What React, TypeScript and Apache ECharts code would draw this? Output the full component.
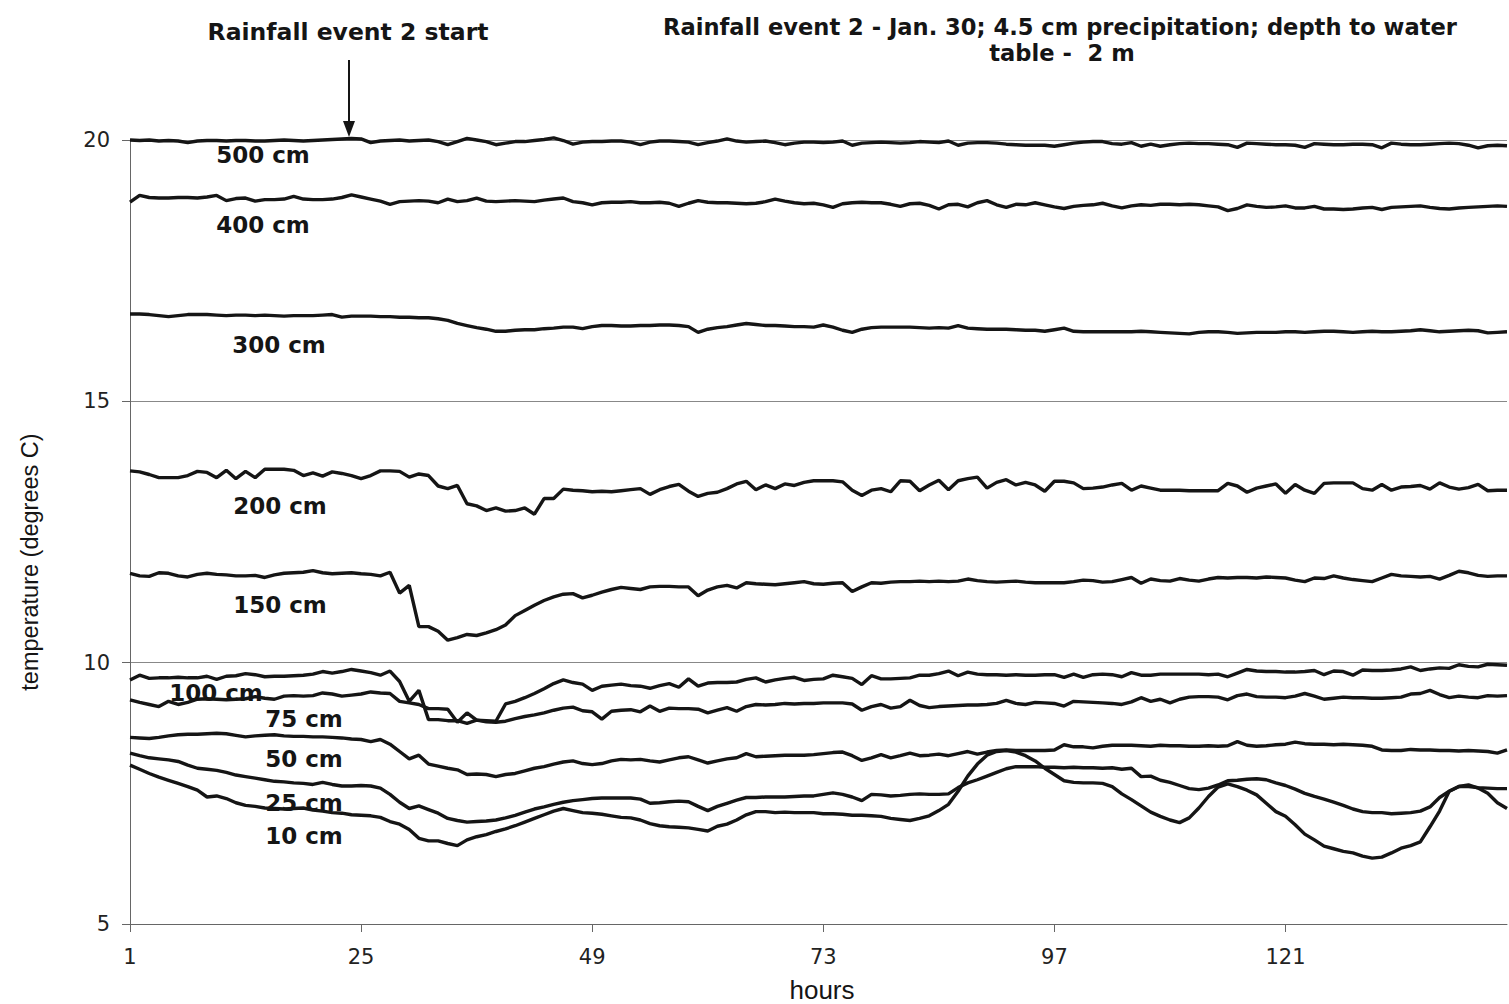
import React, { useEffect, useRef } from "react";
import * as echarts from "echarts";

// hours 1..144 (category axis)
const hours: string[] = [];
for (let i = 1; i <= 144; i++) hours.push(String(i));

const t500 = [
  20.0, 19.99, 20.0, 19.98, 19.99, 19.98, 19.95, 19.98, 19.99, 19.99, 19.98, 19.99,
  19.99, 19.98, 19.98, 19.99, 20.0, 19.99, 19.98, 19.99, 20.0, 20.01, 20.02, 20.03,
  20.02, 19.95, 19.98, 19.99, 20.0, 19.98, 19.99, 20.0, 19.97, 19.91, 19.97, 20.03,
  20.0, 19.97, 19.91, 19.94, 19.97, 19.97, 19.99, 20.01, 20.04, 19.99, 19.92, 19.96,
  19.97, 19.97, 19.98, 19.98, 19.96, 19.91, 19.96, 19.98, 19.98, 19.97, 19.96, 19.91,
  19.95, 19.98, 20.02, 19.98, 19.96, 19.97, 19.98, 19.95, 19.91, 19.94, 19.96, 19.96,
  19.95, 19.96, 19.98, 19.9, 19.94, 19.95, 19.96, 19.95, 19.94, 19.95, 19.97, 19.96,
  19.95, 19.98, 19.9, 19.94, 19.95, 19.95, 19.94, 19.92, 19.91, 19.9, 19.9, 19.9,
  19.88, 19.91, 19.94, 19.96, 19.97, 19.97, 19.93, 19.92, 19.95, 19.88, 19.92, 19.88,
  19.91, 19.93, 19.94, 19.93, 19.93, 19.92, 19.91, 19.86, 19.94, 19.93, 19.92, 19.91,
  19.91, 19.9, 19.86, 19.93, 19.92, 19.91, 19.91, 19.92, 19.92, 19.91, 19.85, 19.94,
  19.92, 19.91, 19.91, 19.92, 19.93, 19.94, 19.93, 19.9, 19.85, 19.89, 19.9, 19.89,
];

const t400 = [
  18.81, 18.94, 18.9, 18.89, 18.89, 18.9, 18.9, 18.89, 18.91, 18.94, 18.84, 18.88,
  18.89, 18.83, 18.86, 18.86, 18.87, 18.92, 18.87, 18.86, 18.86, 18.87, 18.9, 18.95,
  18.91, 18.87, 18.83, 18.77, 18.82, 18.83, 18.84, 18.83, 18.8, 18.87, 18.82, 18.84,
  18.89, 18.83, 18.82, 18.83, 18.84, 18.83, 18.82, 18.85, 18.87, 18.89, 18.82, 18.8,
  18.76, 18.8, 18.81, 18.81, 18.82, 18.8, 18.8, 18.81, 18.79, 18.73, 18.79, 18.84,
  18.81, 18.8, 18.8, 18.79, 18.78, 18.79, 18.82, 18.87, 18.83, 18.8, 18.78, 18.79,
  18.76, 18.71, 18.78, 18.8, 18.81, 18.8, 18.8, 18.77, 18.73, 18.78, 18.79, 18.75,
  18.68, 18.76, 18.77, 18.72, 18.8, 18.84, 18.76, 18.71, 18.77, 18.76, 18.8, 18.76,
  18.72, 18.69, 18.73, 18.75, 18.76, 18.79, 18.74, 18.7, 18.74, 18.76, 18.75, 18.77,
  18.77, 18.76, 18.77, 18.76, 18.74, 18.72, 18.65, 18.69, 18.76, 18.73, 18.71, 18.72,
  18.74, 18.7, 18.7, 18.73, 18.68, 18.68, 18.67, 18.68, 18.7, 18.71, 18.67, 18.71,
  18.72, 18.73, 18.74, 18.71, 18.69, 18.68, 18.7, 18.71, 18.72, 18.73, 18.74, 18.73,
];

const t300 = [
  16.67, 16.67, 16.66, 16.64, 16.62, 16.64, 16.66, 16.66, 16.66, 16.65, 16.64, 16.65,
  16.65, 16.64, 16.65, 16.64, 16.63, 16.64, 16.64, 16.64, 16.65, 16.66, 16.61, 16.63,
  16.63, 16.63, 16.62, 16.62, 16.61, 16.61, 16.6, 16.6, 16.58, 16.55, 16.49, 16.45,
  16.41, 16.38, 16.34, 16.34, 16.36, 16.37, 16.37, 16.39, 16.4, 16.42, 16.42, 16.39,
  16.43, 16.45, 16.45, 16.44, 16.44, 16.45, 16.45, 16.46, 16.46, 16.45, 16.43, 16.32,
  16.38, 16.41, 16.43, 16.46, 16.49, 16.47, 16.45, 16.45, 16.44, 16.43, 16.43, 16.42,
  16.46, 16.42, 16.36, 16.32, 16.38, 16.41, 16.42, 16.42, 16.42, 16.42, 16.41, 16.4,
  16.41, 16.4, 16.45, 16.4, 16.39, 16.38, 16.38, 16.38, 16.37, 16.36, 16.36, 16.34,
  16.37, 16.4, 16.34, 16.33, 16.33, 16.33, 16.33, 16.33, 16.33, 16.34, 16.33, 16.32,
  16.31, 16.3, 16.29, 16.32, 16.33, 16.33, 16.32, 16.3, 16.31, 16.32, 16.32, 16.32,
  16.33, 16.33, 16.32, 16.33, 16.34, 16.34, 16.33, 16.32, 16.33, 16.34, 16.33, 16.33,
  16.34, 16.35, 16.37, 16.35, 16.33, 16.34, 16.35, 16.36, 16.35, 16.31, 16.32, 16.33,
];

const t200 = [
  13.67, 13.65, 13.6, 13.54, 13.54, 13.54, 13.58, 13.66, 13.64, 13.54, 13.68, 13.52,
  13.66, 13.54, 13.7, 13.7, 13.7, 13.68, 13.58, 13.63, 13.57, 13.65, 13.62, 13.58,
  13.52, 13.58, 13.67, 13.67, 13.66, 13.55, 13.61, 13.58, 13.38, 13.33, 13.39, 13.04,
  13.0, 12.91, 12.96, 12.9, 12.91, 12.96, 12.84, 13.14, 13.14, 13.32, 13.3, 13.29,
  13.27, 13.28, 13.27, 13.29, 13.31, 13.33, 13.22, 13.31, 13.37, 13.41, 13.28, 13.18,
  13.24, 13.26, 13.33, 13.42, 13.47, 13.31, 13.4, 13.33, 13.42, 13.39, 13.45, 13.48,
  13.48, 13.48, 13.46, 13.3, 13.2, 13.3, 13.33, 13.27, 13.48, 13.47, 13.29, 13.4,
  13.49, 13.31, 13.48, 13.52, 13.55, 13.34, 13.45, 13.5, 13.4, 13.45, 13.4, 13.28,
  13.47, 13.47, 13.44, 13.33, 13.34, 13.36, 13.4, 13.43, 13.3, 13.38, 13.34, 13.3,
  13.3, 13.3, 13.29, 13.29, 13.29, 13.29, 13.43, 13.38, 13.26, 13.34, 13.38, 13.42,
  13.24, 13.41, 13.3, 13.24, 13.43, 13.44, 13.44, 13.44, 13.33, 13.3, 13.41, 13.3,
  13.36, 13.37, 13.39, 13.32, 13.44, 13.36, 13.32, 13.35, 13.41, 13.29, 13.3, 13.3,
];

const t150 = [
  11.71, 11.66, 11.65, 11.72, 11.71, 11.66, 11.64, 11.69, 11.71, 11.69, 11.68, 11.66,
  11.66, 11.67, 11.63, 11.68, 11.71, 11.72, 11.73, 11.76, 11.72, 11.7, 11.71, 11.72,
  11.7, 11.69, 11.66, 11.73, 11.33, 11.48, 10.69, 10.69, 10.6, 10.43, 10.48, 10.54,
  10.52, 10.57, 10.63, 10.72, 10.9, 11.0, 11.1, 11.19, 11.26, 11.31, 11.32, 11.24,
  11.29, 11.35, 11.4, 11.44, 11.42, 11.4, 11.45, 11.46, 11.46, 11.45, 11.45, 11.28,
  11.39, 11.45, 11.48, 11.43, 11.53, 11.51, 11.5, 11.49, 11.51, 11.53, 11.55, 11.51,
  11.5, 11.52, 11.53, 11.36, 11.45, 11.53, 11.52, 11.54, 11.55, 11.55, 11.56, 11.55,
  11.56, 11.55, 11.56, 11.6, 11.57, 11.55, 11.54, 11.55, 11.56, 11.54, 11.53, 11.53,
  11.53, 11.53, 11.55, 11.58, 11.57, 11.54, 11.55, 11.59, 11.63, 11.52, 11.6, 11.57,
  11.56, 11.61, 11.58, 11.56, 11.6, 11.63, 11.62, 11.63, 11.63, 11.62, 11.64, 11.63,
  11.62, 11.58, 11.55, 11.62, 11.61, 11.66, 11.62, 11.59, 11.57, 11.55, 11.62, 11.69,
  11.66, 11.65, 11.64, 11.65, 11.6, 11.67, 11.75, 11.72, 11.67, 11.65, 11.66, 11.66,
];

const t100 = [
  9.67, 9.76, 9.7, 9.71, 9.71, 9.72, 9.71, 9.71, 9.74, 9.68, 9.74, 9.75,
  9.79, 9.77, 9.73, 9.74, 9.74, 9.75, 9.76, 9.78, 9.83, 9.8, 9.83, 9.87,
  9.84, 9.81, 9.76, 9.84, 9.64, 9.26, 9.47, 8.91, 8.91, 8.89, 8.89, 8.84,
  8.9, 8.89, 8.88, 9.21, 9.26, 9.33, 9.41, 9.5, 9.6, 9.67, 9.62, 9.59,
  9.47, 9.55, 9.57, 9.59, 9.56, 9.55, 9.51, 9.56, 9.6, 9.53, 9.69, 9.55,
  9.61, 9.62, 9.62, 9.63, 9.68, 9.71, 9.63, 9.67, 9.7, 9.72, 9.66, 9.68,
  9.69, 9.76, 9.73, 9.7, 9.58, 9.75, 9.69, 9.69, 9.7, 9.71, 9.76, 9.76,
  9.79, 9.84, 9.75, 9.82, 9.78, 9.77, 9.77, 9.76, 9.77, 9.76, 9.76, 9.77,
  9.77, 9.72, 9.78, 9.72, 9.77, 9.78, 9.77, 9.73, 9.81, 9.76, 9.76, 9.78,
  9.78, 9.78, 9.78, 9.78, 9.77, 9.78, 9.73, 9.8, 9.87, 9.84, 9.83, 9.83,
  9.82, 9.82, 9.83, 9.85, 9.77, 9.84, 9.83, 9.76, 9.86, 9.85, 9.85, 9.86,
  9.88, 9.92, 9.85, 9.88, 9.9, 9.89, 9.96, 9.93, 9.92, 9.97, 9.96, 9.95,
];

const t75 = [
  9.29, 9.24, 9.2, 9.16, 9.26, 9.2, 9.24, 9.3, 9.31, 9.3, 9.29, 9.3,
  9.31, 9.35, 9.32, 9.3, 9.36, 9.37, 9.36, 9.37, 9.42, 9.4, 9.36, 9.38,
  9.4, 9.44, 9.42, 9.41, 9.26, 9.23, 9.2, 9.12, 9.12, 9.11, 8.86, 9.04,
  8.9, 8.87, 8.86, 8.88, 8.93, 8.97, 9.0, 9.04, 9.09, 9.13, 9.15, 9.08,
  9.06, 8.92, 9.07, 9.09, 9.1, 9.06, 9.17, 9.07, 9.13, 9.12, 9.12, 9.11,
  9.04, 9.09, 9.14, 9.07, 9.16, 9.2, 9.19, 9.2, 9.22, 9.21, 9.22, 9.22,
  9.23, 9.23, 9.23, 9.21, 9.09, 9.16, 9.2, 9.13, 9.16, 9.28, 9.18, 9.14,
  9.16, 9.17, 9.18, 9.19, 9.19, 9.2, 9.22, 9.28, 9.22, 9.2, 9.24, 9.23,
  9.22, 9.17, 9.26, 9.25, 9.24, 9.23, 9.22, 9.2, 9.25, 9.33, 9.26, 9.3,
  9.23, 9.3, 9.34, 9.35, 9.35, 9.34, 9.29, 9.37, 9.4, 9.35, 9.34, 9.34,
  9.33, 9.36, 9.41, 9.36, 9.3, 9.32, 9.34, 9.33, 9.33, 9.32, 9.32, 9.33,
  9.34, 9.4, 9.41, 9.47, 9.39, 9.33, 9.36, 9.34, 9.33, 9.37, 9.36, 9.37,
];

const t50 = [
  8.57, 8.56, 8.55, 8.57, 8.6, 8.62, 8.63, 8.63, 8.64, 8.65, 8.64, 8.61,
  8.58, 8.6, 8.61, 8.62, 8.6, 8.59, 8.59, 8.58, 8.58, 8.57, 8.56, 8.54,
  8.53, 8.49, 8.53, 8.44, 8.3, 8.16, 8.23, 8.06, 8.02, 7.98, 7.95, 7.86,
  7.87, 7.86, 7.82, 7.86, 7.88, 7.93, 7.98, 8.01, 8.06, 8.1, 8.12, 8.07,
  8.05, 8.07, 8.12, 8.15, 8.14, 8.15, 8.12, 8.1, 8.14, 8.18, 8.2, 8.14,
  8.08, 8.12, 8.16, 8.18, 8.26, 8.2, 8.21, 8.22, 8.23, 8.23, 8.23, 8.24,
  8.26, 8.28, 8.29, 8.22, 8.13, 8.18, 8.24, 8.18, 8.22, 8.27, 8.22, 8.23,
  8.25, 8.22, 8.26, 8.3, 8.25, 8.29, 8.32, 8.33, 8.32, 8.32, 8.32, 8.32,
  8.33, 8.43, 8.39, 8.39, 8.37, 8.4, 8.42, 8.42, 8.42, 8.41, 8.4, 8.42,
  8.41, 8.41, 8.4, 8.4, 8.41, 8.4, 8.41, 8.49, 8.42, 8.4, 8.41, 8.43,
  8.44, 8.48, 8.45, 8.44, 8.44, 8.43, 8.44, 8.43, 8.42, 8.4, 8.33, 8.32,
  8.32, 8.34, 8.33, 8.33, 8.32, 8.32, 8.31, 8.32, 8.31, 8.3, 8.27, 8.33,
];

const t25 = [
  8.27, 8.22, 8.18, 8.16, 8.14, 8.11, 8.04, 7.98, 7.96, 7.94, 7.9, 7.85,
  7.82, 7.79, 7.76, 7.73, 7.72, 7.7, 7.69, 7.67, 7.71, 7.67, 7.64, 7.64,
  7.65, 7.64, 7.6, 7.48, 7.33, 7.21, 7.26, 7.19, 7.12, 7.02, 6.98, 6.95,
  6.96, 6.97, 6.99, 7.03, 7.08, 7.14, 7.2, 7.24, 7.29, 7.33, 7.36, 7.38,
  7.4, 7.41, 7.41, 7.41, 7.41, 7.39, 7.31, 7.32, 7.34, 7.35, 7.34, 7.25,
  7.17, 7.25, 7.31, 7.37, 7.42, 7.42, 7.43, 7.43, 7.43, 7.44, 7.45, 7.45,
  7.48, 7.51, 7.48, 7.43, 7.36, 7.48, 7.47, 7.45, 7.46, 7.48, 7.49, 7.48,
  7.48, 7.49, 7.61, 7.7, 7.76, 7.83, 7.9, 7.97, 8.01, 8.01, 8.01, 8.0,
  8.0, 7.99, 8.0, 7.99, 7.99, 7.98, 7.99, 7.96, 7.98, 7.82, 7.83, 7.75,
  7.71, 7.65, 7.59, 7.57, 7.6, 7.66, 7.74, 7.75, 7.77, 7.78, 7.76, 7.7,
  7.65, 7.58, 7.5, 7.44, 7.39, 7.33, 7.27, 7.2, 7.15, 7.13, 7.13, 7.11,
  7.12, 7.13, 7.16, 7.24, 7.42, 7.54, 7.63, 7.63, 7.61, 7.6, 7.59, 7.59,
];

const t10 = [
  8.04, 7.96, 7.88, 7.81, 7.75, 7.69, 7.63, 7.56, 7.43, 7.45, 7.4, 7.32,
  7.27, 7.25, 7.22, 7.21, 7.2, 7.21, 7.22, 7.18, 7.16, 7.13, 7.12, 7.09,
  7.08, 7.07, 7.04, 6.96, 6.91, 6.81, 6.64, 6.59, 6.59, 6.54, 6.5, 6.61,
  6.67, 6.71, 6.77, 6.82, 6.88, 6.95, 7.02, 7.09, 7.16, 7.21, 7.17, 7.13,
  7.12, 7.1, 7.07, 7.04, 7.03, 6.99, 6.92, 6.88, 6.86, 6.85, 6.84, 6.81,
  6.78, 6.87, 6.91, 6.99, 7.09, 7.15, 7.15, 7.13, 7.14, 7.13, 7.13, 7.13,
  7.11, 7.11, 7.1, 7.08, 7.08, 7.07, 7.06, 7.02, 7.0, 6.98, 7.02, 7.07,
  7.17, 7.29, 7.54, 7.83, 8.06, 8.23, 8.3, 8.32, 8.29, 8.22, 8.12, 7.98,
  7.86, 7.74, 7.71, 7.7, 7.7, 7.69, 7.63, 7.49, 7.38, 7.26, 7.14, 7.06,
  6.99, 6.94, 7.03, 7.22, 7.44, 7.62, 7.68, 7.63, 7.56, 7.47, 7.31, 7.15,
  7.06, 6.9, 6.72, 6.61, 6.49, 6.44, 6.39, 6.36, 6.3, 6.26, 6.28, 6.36,
  6.45, 6.5, 6.57, 6.86, 7.16, 7.54, 7.63, 7.66, 7.6, 7.5, 7.32, 7.21,
];

const depthNames = ["500 cm", "400 cm", "300 cm", "200 cm", "150 cm", "100 cm", "75 cm", "50 cm", "25 cm", "10 cm"];
const depthSeries = [t500, t400, t300, t200, t150, t100, t75, t50, t25, t10];

const yTicks = { min: 5, max: 20, interval: 5 };

const annotationLeft = "Rainfall event 2 start";
const titleLine1 = "Rainfall event 2 - Jan. 30; 4.5 cm precipitation; depth to water";
const titleLine2 = "table -  2 m";
const yTitle = "temperature (degrees C)";
const xTitle = "hours";

// label placement (pixels) for each depth label
const labelPos: [number, number][] = [
  [263, 155], [263, 225], [279, 345], [280, 506], [280, 605],
  [216, 693], [304, 719], [304, 759], [304, 803], [304, 836],
];

const INK = "#151515";
const FONT_BOLD = '"DejaVu Sans", Verdana, sans-serif';

function txt(x: number, y: number, text: string, font: string, align = "center", extra: any = {}) {
  return {
    type: "text",
    x,
    y,
    silent: true,
    z: 100,
    ...extra,
    style: {
      text,
      font,
      fill: INK,
      align,
      textAlign: align,
      verticalAlign: "middle",
      textVerticalAlign: "middle",
    },
  };
}

export default function App() {
  const ref = useRef<HTMLDivElement>(null);
  useEffect(() => {
    if (!ref.current) return;
    const chart = echarts.init(ref.current, null, { renderer: "svg" });
    const graphics: any[] = [
      txt(348, 32, annotationLeft, `bold 23.5px ${FONT_BOLD}`),
      txt(1060, 27, titleLine1, `bold 22.6px ${FONT_BOLD}`),
      txt(1062, 53, titleLine2, `bold 22.6px ${FONT_BOLD}`),
      {
        type: "line",
        silent: true,
        z: 100,
        shape: { x1: 349, y1: 60, x2: 349, y2: 124 },
        style: { stroke: INK, lineWidth: 2 },
      },
      {
        type: "polygon",
        silent: true,
        z: 100,
        shape: { points: [[343, 121], [355, 121], [349, 137]] },
        style: { fill: INK },
      },
      txt(30, 562, yTitle, '23.5px "Liberation Sans", Arial, sans-serif', "center", { rotation: Math.PI / 2 }),
      txt(822, 990, xTitle, '26px "Liberation Sans", Arial, sans-serif'),
    ];
    depthNames.forEach((n, i) => {
      graphics.push(txt(labelPos[i][0], labelPos[i][1], n, `bold 23px ${FONT_BOLD}`));
    });

    chart.setOption({
      animation: false,
      backgroundColor: "#ffffff",
      grid: { left: 130, right: 2, top: 140, bottom: 80, containLabel: false },
      xAxis: {
        type: "category",
        data: hours,
        boundaryGap: false,
        axisLine: { show: true, lineStyle: { color: "#666", width: 1 } },
        axisTick: { show: true, interval: 23, length: 8, lineStyle: { color: "#666" } },
        axisLabel: {
          interval: 23,
          fontSize: 21,
          fontFamily: '"DejaVu Sans", Verdana, sans-serif',
          color: "#222",
          margin: 22,
        },
        splitLine: { show: false },
      },
      yAxis: {
        type: "value",
        min: yTicks.min,
        max: yTicks.max,
        interval: yTicks.interval,
        axisLine: { show: true, lineStyle: { color: "#666", width: 1 } },
        axisTick: { show: true, length: 8, lineStyle: { color: "#666" } },
        axisLabel: {
          fontSize: 21,
          fontFamily: '"DejaVu Sans", Verdana, sans-serif',
          color: "#222",
          margin: 20,
        },
        splitLine: { show: true, lineStyle: { color: "#888", width: 1 } },
      },
      series: depthSeries.map((d, i) => ({
        name: depthNames[i],
        type: "line",
        data: d,
        symbol: "none",
        smooth: false,
        clip: false,
        lineStyle: { color: INK, width: 3.4 },
        z: 3,
      })),
      graphic: graphics,
    });
    return () => chart.dispose();
  }, []);
  return (
    <div
      ref={ref}
      style={{ position: "fixed", left: 0, top: 0, width: 1509, height: 1004, background: "#fff" }}
    />
  );
}
